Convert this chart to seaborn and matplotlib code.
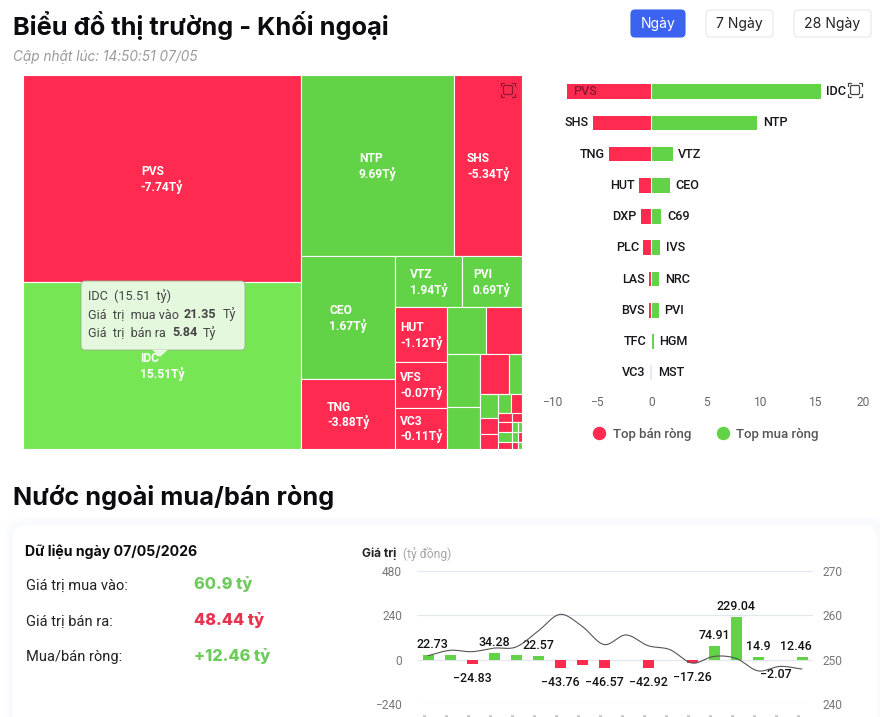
import numpy as np
import pandas as pd
import matplotlib
matplotlib.use("Agg")
import matplotlib.pyplot as plt
from matplotlib.lines import Line2D
from matplotlib.patches import FancyBboxPatch, Polygon, Rectangle
import seaborn as sns

W, H = 880, 717
RED = "#FF2A4F"
GREEN = "#62D346"
GREEN_HOVER = "#77E655"
GREY_BAR = "#E6E7EF"

# Treemap: net foreign flow and total traded value per ticker (billion VND)
TREE_NAMES = ["PVS", "IDC", "NTP", "SHS", "CEO", "TNG", "VTZ", "PVI", "HUT", "VFS", "VC3",
              "C69", "DXP", "IVS", "NRC", "PLC", "HGM", "A1", "A2", "A3",
              "B1", "B2", "B3", "B4", "B5", "B6", "B7", "B8", "B9", "B10", "B11", "B12", "B13"]
TREE_NET = [-7.74, 15.51, 9.69, -5.34, 1.67, -3.88, 1.94, 0.69, -1.12, -0.07, -0.11,
            0.92, -0.9, 0.83, 0.73, -0.72, 0.25, 0.1, -0.2, -0.2,
            0.1, -0.1, -0.1, -0.1, -0.1, 0.03, 0.02, 0.05, 0.02, -0.01, -0.05, -0.02, 0.01]
TREE_TOTAL = [32.87, 26.53, 15.85, 7.0, 6.6, 3.8, 1.93, 1.76, 1.61, 1.34, 1.22,
              1.05, 0.97, 0.99, 0.79, 0.66, 0.30, 0.25, 0.17, 0.16,
              0.137, 0.116, 0.066, 0.051, 0.076, 0.038, 0.02, 0.076, 0.038, 0.02, 0.057, 0.029, 0.015]
TREE_SPLITS = ("h", [
    ("v", [0, 1]),
    ("v", [
        ("h", [2, 3]),
        ("h", [
            ("v", [4, 5]),
            ("v", [
                ("h", [6, 7]),
                ("h", [
                    ("v", [8, 9, 10]),
                    ("v", [
                        ("h", [11, 12]),
                        ("h", [
                            ("v", [13, 14]),
                            ("v", [
                                ("h", [15, 16]),
                                ("h", [
                                    ("v", [17, 18, 19]),
                                    ("v", [
                                        ("h", [20, 21]),
                                        ("h", [22, 23]),
                                        ("h", [24, 25, 26]),
                                        ("h", [27, 28, 29]),
                                        ("h", [30, 31, 32]),
                                    ]),
                                ]),
                            ]),
                        ]),
                    ]),
                ]),
            ]),
        ]),
    ]),
])

# Butterfly chart: top net sellers and top net buyers
SELL_NAMES = ["PVS", "SHS", "TNG", "HUT", "DXP", "PLC", "LAS", "BVS", "TFC", "VC3"]
SELL_VALUES = [-7.74, -5.34, -3.88, -1.12, -0.9, -0.72, -0.2, -0.2, -0.02, -0.11]
BUY_NAMES = ["IDC", "NTP", "VTZ", "CEO", "C69", "IVS", "NRC", "PVI", "HGM", "MST"]
BUY_VALUES = [15.51, 9.69, 1.94, 1.67, 0.92, 0.83, 0.73, 0.69, 0.25, 0.1]
BUTTERFLY_TICKS = [-10, -5, 0, 5, 10, 15, 20]

# Daily net flow with the index line on the secondary axis
DAILY_NET = [22.73, 25, -24.83, 34.28, 27, 22.57, -43.76, -27, -46.57, np.nan,
             -42.92, np.nan, -17.26, 74.91, 229.04, 14.9, -2.07, 12.46]
DAILY_LABELLED = [0, 2, 3, 5, 6, 8, 10, 12, 13, 14, 15, 16, 17]
INDEX_LINE = [250.9, 252.1, 251.8, 252.6, 252.85, 256.4, 260.15, 257.5, 253.4,
              255.55, 253.15, 252.25, 249.25, 250.75, 250.3, 247.5, 248.5, 247.9]
LEFT_TICKS = [-240, 0, 240, 480]
RIGHT_TICKS = [240, 250, 260, 270]

sns.set_theme(style="white")
plt.rcParams["font.family"] = ["Roboto", "DejaVu Sans"]
plt.rcParams["axes.unicode_minus"] = True

fig = plt.figure(figsize=(W / 100, H / 100), dpi=100, facecolor="white")


def px_axes(left, top, right, bottom, **kw):
    """Axes placed by pixel edges, measured from the top left corner."""
    return fig.add_axes([left / W, 1 - bottom / H, (right - left) / W, (bottom - top) / H], **kw)


def pt(px):
    return px * 0.72


# Page layer in pixel coordinates for headings, buttons and the card
page = px_axes(0, 0, W, H)
page.set_xlim(0, W)
page.set_ylim(H, 0)
page.axis("off")
page.set_zorder(0)

for grow, tint in [(9, "#FCFDFE"), (6, "#FAFBFD"), (3, "#F8FAFD")]:
    page.add_patch(FancyBboxPatch((13 - grow, 525 - grow), 868 + 2 * grow, 260,
                                  boxstyle=f"round,pad=0,rounding_size={14 + grow}",
                                  fc=tint, ec="none"))
page.add_patch(FancyBboxPatch((13, 525), 864, 260, boxstyle="round,pad=0,rounding_size=14",
                              fc="white", ec="none"))

page.text(13, 25, "Biểu đồ thị trường - Khối ngoại", family="Inter", weight="bold",
          fontsize=pt(25.4), color="#0B0B10", va="center")
page.text(13, 57, "Cập nhật lúc: 14:50:51 07/05", family="Inter", style="italic",
          fontsize=pt(13.6), color="#9A9A9A", va="center")
page.text(13, 497.5, "Nước ngoài mua/bán ròng", family="Inter", weight="bold",
          fontsize=pt(25.3), color="#0B0B10", va="center")

for x0, x1, label, active in [(631, 685, "Ngày", True), (706, 773, "7 Ngày", False),
                              (794, 871, "28 Ngày", False)]:
    page.add_patch(FancyBboxPatch((x0, 10), x1 - x0, 27, boxstyle="round,pad=0,rounding_size=4",
                                  fc="#3B63F0" if active else "white",
                                  ec="#3B63F0" if active else "#E6E6E6", lw=0.8))
    page.text((x0 + x1) / 2, 24, label, family="Inter", fontsize=pt(14),
              color="white" if active else "#222222", ha="center", va="center")

page.text(25, 552, "Dữ liệu ngày 07/05/2026", family="Inter", weight="bold",
          fontsize=pt(14.1), color="#0B0B10", va="center")
for y, label, value, colour in [(585, "Giá trị mua vào:", "60.9 tỷ", "#6CCB5A"),
                                (621, "Giá trị bán ra:", "48.44 tỷ", "#E8324F"),
                                (657, "Mua/bán ròng:", "+12.46 tỷ", "#6CCB5A")]:
    page.text(25.5, y + 0.5, label, fontsize=pt(14.6), color="#222222", va="center")
    page.text(194, y - 0.5, value, family="Inter", weight=800, fontsize=pt(16.3),
              color=colour, va="center")
page.text(362, 554, "Giá trị", family="Inter", weight="bold", fontsize=pt(12),
          color="#222222", va="center")
page.text(403, 554, "(tỷ đồng)", fontsize=pt(12), color="#A5A5A5", va="center")


# Treemap
tree = px_axes(23, 75, 522, 449)
tree.set_xlim(0, 1)
tree.set_ylim(1, 0)
tree.axis("off")
tree.set_zorder(2)
tree_w, tree_h = 499, 374


def weight(node):
    if isinstance(node, int):
        return TREE_TOTAL[node]
    return sum(weight(child) for child in node[1])


def lay_out(node, x, y, w, h):
    """Slice a rectangle along the given direction in proportion to traded value."""
    if isinstance(node, int):
        yield node, x, y, w, h
        return
    direction, children = node
    total = weight(node)
    for child in children:
        share = weight(child) / total
        if direction == "h":
            yield from lay_out(child, x, y, w * share, h)
            x += w * share
        else:
            yield from lay_out(child, x, y, w, h * share)
            y += h * share


for i, x, y, w, h in lay_out(TREE_SPLITS, 0, 0, 1, 1):
    colour = GREEN_HOVER if TREE_NAMES[i] == "IDC" else (GREEN if TREE_NET[i] > 0 else RED)
    tree.add_patch(Rectangle((x, y), w, h, fc=colour, ec="white", lw=0.8))
    if w * tree_w >= 45 and h * tree_h >= 35:
        tree.text(x + w / 2, y + h / 2 + 1 / tree_h, f"{TREE_NAMES[i]}\n{TREE_NET[i]:g}Tỷ", color="white",
                  ha="center", va="center", multialignment="left", weight="semibold",
                  fontsize=pt(12), linespacing=1.12)

# Hover tooltip and chart icons go above the treemap
over = px_axes(0, 0, W, H)
over.set_xlim(0, W)
over.set_ylim(H, 0)
over.axis("off")
over.patch.set_alpha(0)
over.set_zorder(5)

over.add_patch(FancyBboxPatch((81, 281), 164, 69, boxstyle="round,pad=0,rounding_size=4",
                              fc="#E4F8DE", ec="#8FB486", lw=0.6))
over.add_patch(Polygon([(152, 349.6), (160, 357), (168, 349.6)], fc="#E4F8DE", ec="none"))
tip_font = dict(fontsize=pt(12.6), color="#444444", va="center")
over.text(88, 296, "IDC  (15.51  tỷ)", **tip_font)
over.text(88, 314.5, "Giá  trị  mua vào", **tip_font)
over.text(184, 314.5, "21.35", weight="bold", **tip_font)
over.text(223, 314.5, "Tỷ", **tip_font)
over.text(88, 333, "Giá  trị  bán ra", **tip_font)
over.text(172, 333, "5.84", weight="bold", **tip_font)
over.text(203, 333, "Tỷ", **tip_font)


def zoom_icon(cx, cy, colour):
    over.add_patch(FancyBboxPatch((cx - 4.5, cy - 4.5), 9, 9, boxstyle="round,pad=0,rounding_size=1.5",
                                  fc="none", ec=colour, lw=0.9))
    r, s = 7, 3
    for sx in (-1, 1):
        for sy in (-1, 1):
            over.plot([cx + sx * (r - s), cx + sx * r, cx + sx * r],
                      [cy + sy * r, cy + sy * r, cy + sy * (r - s)], color=colour, lw=0.9)


zoom_icon(508, 90, "#8E1B33")
zoom_icon(855, 90, "#444444")

# Butterfly bars
butterfly = px_axes(542, 76, 870, 388.4)
rows = [str(i) for i in range(len(SELL_NAMES))]
sell_colours = [RED] * (len(rows) - 1) + [GREY_BAR]
buy_colours = [GREEN] * (len(rows) - 1) + [GREY_BAR]
sns.barplot(x=SELL_VALUES, y=rows, hue=rows, palette=sell_colours, orient="h", width=0.47,
            saturation=1, legend=False, ax=butterfly, linewidth=0, order=rows, hue_order=rows)
sns.barplot(x=BUY_VALUES, y=rows, hue=rows, palette=buy_colours, orient="h", width=0.47,
            saturation=1, legend=False, ax=butterfly, linewidth=0, order=rows, hue_order=rows)
butterfly.vlines(0, -0.5, len(rows) - 1.5, color="white", lw=0.8, zorder=4)
butterfly.set_xlim(-10, 20)
butterfly.set_ylim(len(rows) - 0.5, -0.5)
butterfly.set_ylabel("")
butterfly.set_yticks([])
butterfly.set_xticks(BUTTERFLY_TICKS)
butterfly.set_xticklabels([str(t).replace("-", "\u2212") for t in BUTTERFLY_TICKS])
butterfly.tick_params(axis="x", length=0, pad=pt(8), labelsize=pt(12), labelcolor="#666666")
butterfly.get_xticklabels()[0].set_ha("left")
butterfly.get_xticklabels()[-1].set_ha("right")
sns.despine(ax=butterfly, left=True, bottom=True)
butterfly.patch.set_alpha(0)
butterfly.set_zorder(3)

for row, (sell_name, sell, buy_name, buy) in enumerate(zip(SELL_NAMES, SELL_VALUES, BUY_NAMES, BUY_VALUES)):
    label_font = dict(va="center", fontsize=pt(12.6), weight="medium", color="#16161C")
    if sell < -7:
        # The longest seller keeps its label inside the bar
        butterfly.annotate(sell_name, (sell, row), xytext=(pt(6), 0), textcoords="offset points",
                           ha="left", **{**label_font, "color": "#8A1830"})
    else:
        butterfly.annotate(sell_name, (sell, row), xytext=(-pt(4.5), 0), textcoords="offset points",
                           ha="right", **label_font)
    butterfly.annotate(buy_name, (buy, row), xytext=(pt(5.5), 0), textcoords="offset points",
                       ha="left", **label_font)

legend = fig.legend(
    handles=[Line2D([], [], ls="", marker="o", ms=pt(12), color=RED, label="Top bán ròng"),
             Line2D([], [], ls="", marker="o", ms=pt(12), color=GREEN, label="Top mua ròng")],
    loc="center", bbox_to_anchor=(702.5 / W, 1 - 434.5 / H), ncol=2, frameon=False,
    prop={"size": pt(13.2), "weight": "medium"}, labelcolor="#555555",
    handletextpad=0.05, columnspacing=1.35,
)

# Daily net bars with the index line
daily = px_axes(417, 570.5, 813, 704.3)
days = [str(i) for i in range(len(DAILY_NET))]
frame = pd.DataFrame({"day": days, "net": DAILY_NET})
frame["side"] = np.where(frame["net"] < 0, "sell", "buy")
sns.barplot(data=frame, x="day", y="net", hue="side", order=days, hue_order=["buy", "sell"],
            palette={"buy": GREEN, "sell": RED}, dodge=False, width=0.5, linewidth=0,
            saturation=1, legend=False, ax=daily)
daily.set_ylim(-240, 480)
daily.set_xlim(-0.5, len(days) - 0.5)
daily.set_yticks(LEFT_TICKS)
daily.set_yticklabels([str(t).replace("-", "\u2212") for t in LEFT_TICKS])
daily.set_xticks([])
daily.set_xlabel("")
daily.set_ylabel("")
daily.grid(axis="y", color="#E2E6EE", lw=0.8)
daily.set_axisbelow(True)
daily.tick_params(axis="y", length=0, pad=pt(15), labelsize=pt(12), labelcolor="#777777")
sns.despine(ax=daily, left=True, bottom=True, top=True, right=True)
daily.patch.set_alpha(0)
daily.set_zorder(3)

label_nudge = {0: 4, 16: -4, 17: -6}
for i in DAILY_LABELLED:
    value = DAILY_NET[i]
    daily.annotate(f"{value:g}".replace("-", "\u2212"), (i, value),
                   xytext=(pt(label_nudge.get(i, 0)), pt(10.5) if value >= 0 else -pt(14.5)),
                   textcoords="offset points", ha="center", va="center",
                   fontsize=pt(12.4), weight="medium", color="#111111", zorder=6)

index_axis = daily.twinx()
xs = np.arange(len(INDEX_LINE), dtype=float)
ys = np.array(INDEX_LINE)
slopes = np.gradient(ys)
curve_t = np.linspace(0, 1, 16)[:-1]
curve_x, curve_y = [], []
# Cubic Hermite segments between the daily index readings
for a in range(len(ys) - 1):
    t = curve_t
    h00 = 2 * t**3 - 3 * t**2 + 1
    h10 = t**3 - 2 * t**2 + t
    h01 = -2 * t**3 + 3 * t**2
    h11 = t**3 - t**2
    curve_x.extend(xs[a] + t)
    curve_y.extend(h00 * ys[a] + h10 * slopes[a] + h01 * ys[a + 1] + h11 * slopes[a + 1])
curve_x.append(xs[-1])
curve_y.append(ys[-1])
sns.lineplot(x=curve_x, y=curve_y, color="#555555", lw=0.8, errorbar=None, sort=False, ax=index_axis)
index_axis.set_ylim(240, 270)
index_axis.set_yticks(RIGHT_TICKS)
index_axis.set_xlim(-0.5, len(days) - 0.5)
index_axis.tick_params(axis="y", length=0, pad=pt(9), labelsize=pt(12), labelcolor="#777777")
index_axis.grid(False)
sns.despine(ax=index_axis, left=True, bottom=True, top=True, right=True)
index_axis.set_zorder(4)
index_axis.patch.set_alpha(0)

# Date labels start just at the bottom edge of the page
date_tops = (np.arange(len(days)) * 22 + 423.5)
over.plot(date_tops, np.full(len(days), 716.3), ls="", marker="s", ms=1.1, color="#C4C4C4", clip_on=False)

fig.savefig("out.png", dpi=100, facecolor="white")
